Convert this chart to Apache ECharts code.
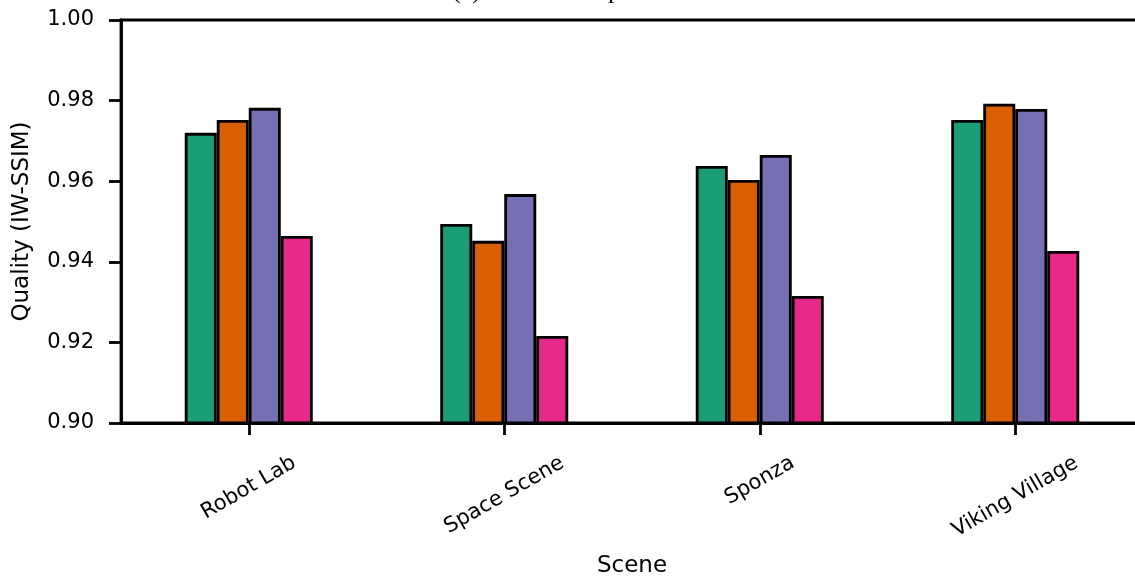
<!DOCTYPE html>
<html>
<head>
<meta charset="utf-8">
<script src="https://cdn.jsdelivr.net/npm/echarts@6/dist/echarts.min.js"></script>
<style>
html,body{margin:0;padding:0;background:#fff;}
#chart{width:1135px;height:576px;}
</style>
</head>
<body>
<div id="chart"></div>
<script>
// ---- data ----
const titleText = '(a) Shader Simplification';
const categories = ['Robot Lab', 'Space Scene', 'Sponza', 'Viking Village'];
const seriesGreen  = [0.9720, 0.9494, 0.9638, 0.9752];
const seriesOrange = [0.9752, 0.9452, 0.9603, 0.9792];
const seriesPurple = [0.9782, 0.9568, 0.9665, 0.9779];
const seriesPink   = [0.9464, 0.9216, 0.9315, 0.9427];
const yTicks = [0.90, 0.92, 0.94, 0.96, 0.98, 1.00];
const xName = 'Scene';
const yName = 'Quality (IW-SSIM)';

const colors = ['#1b9e77', '#d95f02', '#7570b3', '#e7298a'];
const FONT = 'DejaVu Sans';
const tickFont = 21;
const nameFont = 23;

// measure label widths to center rotated labels under ticks (matplotlib-like)
const cv = document.createElement('canvas').getContext('2d');
cv.font = tickFont + 'px "' + FONT + '"';
const rad = Math.PI / 6;
const labelMargins = categories.map(c => {
  const w = cv.measureText(c).width;
  const bboxH = w * Math.sin(rad) + tickFont * 1.15 * Math.cos(rad);
  return 28 + bboxH / 2;
});

const chart = echarts.init(document.getElementById('chart'), null, {renderer: 'canvas'});

const baseXAxis = {
  type: 'category',
  data: categories,
  gridIndex: 0,
  position: 'bottom'
};

const xAxes = [Object.assign({}, baseXAxis, {
  name: xName,
  nameLocation: 'middle',
  nameGap: 132,
  nameTextStyle: {fontFamily: FONT, fontSize: nameFont, color: '#000'},
  axisLine: {show: true, lineStyle: {color: '#000', width: 2.8}},
  axisTick: {show: true, alignWithLabel: true, length: 12, lineStyle: {color: '#000', width: 2.8}},
  axisLabel: {show: false},
  splitLine: {show: false}
})];
categories.forEach((c, k) => {
  xAxes.push(Object.assign({}, baseXAxis, {
    axisLine: {show: false},
    axisTick: {show: false},
    splitLine: {show: false},
    axisLabel: {
      show: true,
      interval: (i) => i === k,
      rotate: 30,
      align: 'center',
      verticalAlign: 'middle',
      margin: labelMargins[k],
      fontFamily: FONT,
      fontSize: tickFont,
      color: '#000'
    }
  }));
});

const mk = (name, data, color) => ({
  name: name,
  type: 'bar',
  xAxisIndex: 0,
  data: data,
  barWidth: 32,
  barGap: '0%',
  itemStyle: {color: color, borderColor: '#000', borderWidth: 2.8},
  emphasis: {disabled: true}
});

chart.setOption({
  animation: false,
  backgroundColor: '#fff',
  title: {
    text: titleText,
    left: 447,
    top: -27,
    textStyle: {fontFamily: 'Liberation Serif', fontSize: 26, fontWeight: 'normal', color: '#000'}
  },
  grid: {
    left: 121, top: 20, width: 1022, height: 403,
    show: true, borderColor: '#000', borderWidth: 2.8,
    backgroundColor: 'transparent',
    containLabel: false,
    outerBoundsMode: 'none'
  },
  xAxis: xAxes,
  yAxis: {
    type: 'value',
    min: yTicks[0],
    max: yTicks[yTicks.length - 1],
    interval: 0.02,
    name: yName,
    nameLocation: 'middle',
    nameGap: 87,
    nameTextStyle: {fontFamily: FONT, fontSize: nameFont, color: '#000'},
    axisLine: {show: true, lineStyle: {color: '#000', width: 2.8}},
    axisTick: {show: true, length: 12, lineStyle: {color: '#000', width: 2.8}},
    axisLabel: {
      fontFamily: FONT, fontSize: tickFont, color: '#000', margin: 27,
      formatter: v => v.toFixed(2)
    },
    splitLine: {show: false}
  },
  series: [
    mk('A', seriesGreen, colors[0]),
    mk('B', seriesOrange, colors[1]),
    mk('C', seriesPurple, colors[2]),
    mk('D', seriesPink, colors[3])
  ]
});
</script>
</body>
</html>
